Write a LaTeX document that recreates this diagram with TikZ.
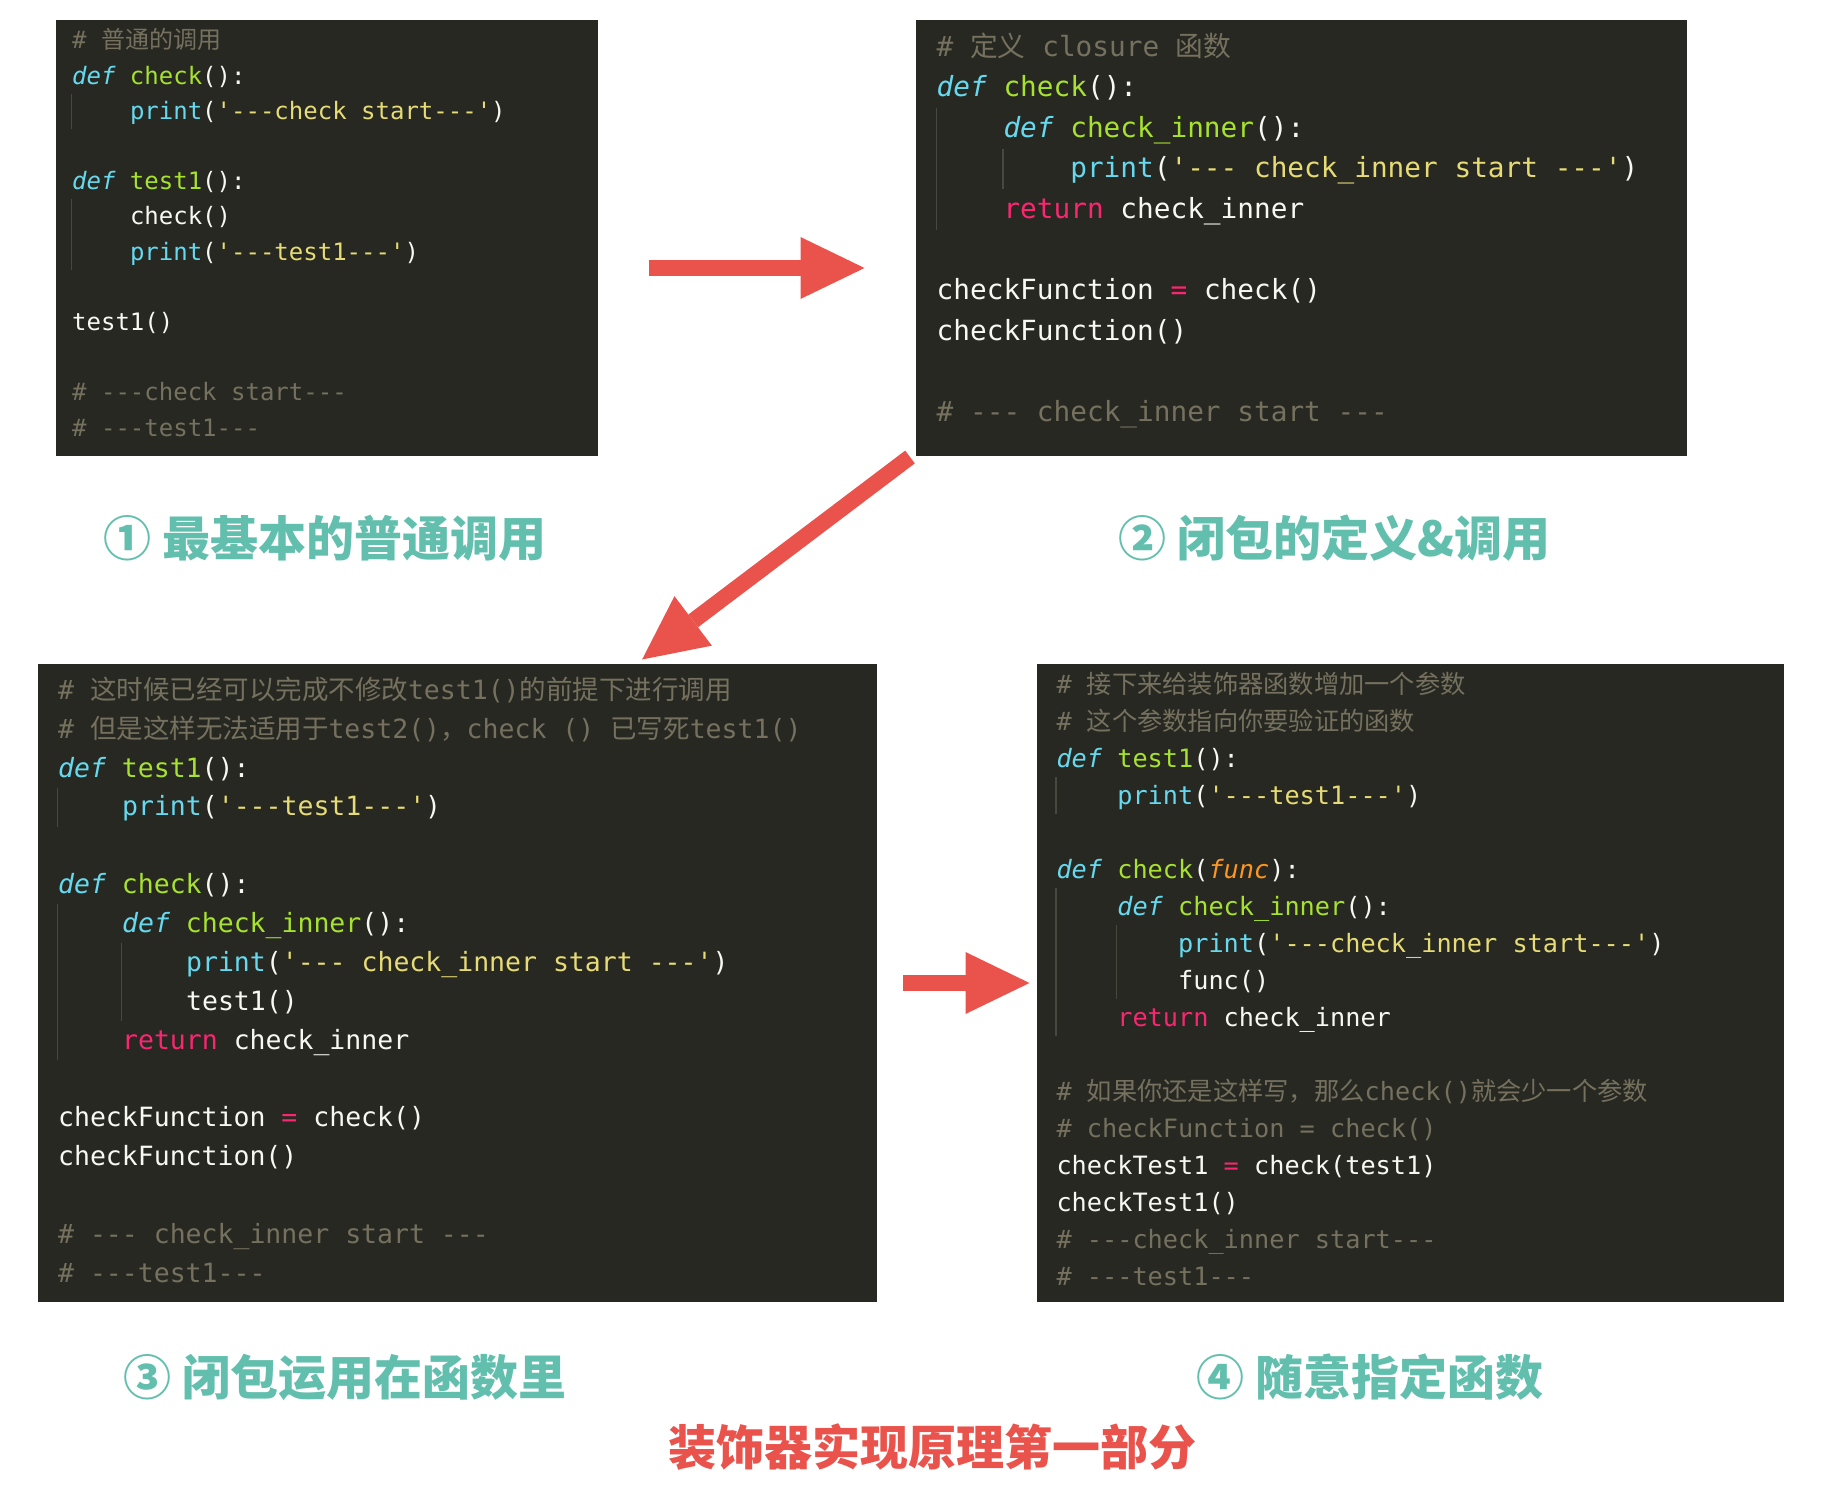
\documentclass[tikz,border=0pt]{standalone}
\usepackage{fontspec}
\setmonofont{DejaVu Sans Mono}
\newfontfamily\cjk{Noto Sans CJK SC}
\usepackage{xcolor}
\usetikzlibrary{arrows.meta,fit}
\definecolor{mkbg}{HTML}{272822}
\definecolor{mkwhite}{HTML}{F8F8F2}
\definecolor{mkgray}{HTML}{75715E}
\definecolor{mkblue}{HTML}{66D9EF}
\definecolor{mkgreen}{HTML}{A6E22E}
\definecolor{mkyellow}{HTML}{E6DB74}
\definecolor{mkpink}{HTML}{F92672}
\definecolor{mkorange}{HTML}{FD971F}
\definecolor{guidegray}{HTML}{48483F}
\definecolor{labteal}{HTML}{62BFAD}
\definecolor{arrowred}{HTML}{E9534C}
\newcommand{\pykw}[1]{\textcolor{mkblue}{\itshape #1}}
\newcommand{\pybi}[1]{\textcolor{mkblue}{#1}}
\newcommand{\pyfn}[1]{\textcolor{mkgreen}{#1}}
\newcommand{\pystr}[1]{\textcolor{mkyellow}{#1}}
\newcommand{\pyop}[1]{\textcolor{mkpink}{#1}}
\newcommand{\pyarg}[1]{\textcolor{mkorange}{\itshape #1}}
\newcommand{\pycm}[1]{\textcolor{mkgray}{#1}}

\begin{document}
\begin{tikzpicture}[x=0.4pt,y=-0.4pt,
    panel/.style={fill=mkbg,inner sep=0pt},
    code/.style={anchor=base west,inner sep=0pt,text=mkwhite},
    guide/.style={draw=guidegray,line width=0.5pt},
    lab/.style={anchor=west,inner sep=0pt,text=labteal,
      font=\cjk\bfseries\fontsize{19.2pt}{19.2pt}\selectfont},
    bigarrow/.style={draw=arrowred,line width=6.4pt,
      -{Triangle[length=25.6pt,width=24.8pt,line width=0pt]}}]
  \fill[white] (0,0) rectangle (1842,1506);
  \useasboundingbox (0,0) rectangle (1842,1506);

  % code panels
  \node[panel,fit={(56,20) (598,456)}] (p1) {};
  \node[panel,fit={(916,20) (1687,456)}] (p2) {};
  \node[panel,fit={(38,664) (876.7,1302)}] (p3) {};
  \node[panel,fit={(1037,664) (1784,1302)}] (p4) {};

  % panel 1
  \def\xa{71.7} \def\ya{48.9} \def\dya{35.2} \def\cwa{14.45}
  \draw[guide] (\xa,93.8) -- (\xa,129);
  \draw[guide] (\xa,199.4) -- (\xa,269.8);
  \begin{scope}[font=\ttfamily\fontsize{9.6pt}{9.6pt}\selectfont]
    \node[code] (a0) at ({\xa},{\ya+0*\dya}) {\pycm{\# {\cjk 普通的调用}}};
    \node[code] (a1) at ({\xa},{\ya+1*\dya}) {\pykw{def} \pyfn{check}():};
    \node[code] (a2) at ({\xa+4*\cwa},{\ya+2*\dya}) {\pybi{print}(\pystr{'---check start---'})};
    \node[code] (a4) at ({\xa},{\ya+4*\dya}) {\pykw{def} \pyfn{test1}():};
    \node[code] (a5) at ({\xa+4*\cwa},{\ya+5*\dya}) {check()};
    \node[code] (a6) at ({\xa+4*\cwa},{\ya+6*\dya}) {\pybi{print}(\pystr{'---test1---'})};
    \node[code] (a8) at ({\xa},{\ya+8*\dya}) {test1()};
    \node[code] (a10) at ({\xa},{\ya+10*\dya}) {\pycm{\# ---check start---}};
    \node[code] (a11) at ({\xa},{\ya+11*\dya}) {\pycm{\# ---test1---}};
  \end{scope}

  % panel 2
  \def\xb{936.2} \def\yb{56.1} \def\dyb{40.6} \def\cwb{16.7}
  \draw[guide] (\xb,107.9) -- (\xb,229.7);
  \draw[guide] ({\xb+4*\cwb},148.5) -- ({\xb+4*\cwb},189.1);
  \begin{scope}[font=\ttfamily\fontsize{11.1pt}{11.1pt}\selectfont]
    \node[code] (b0) at ({\xb},{\yb+0*\dyb}) {\pycm{\# {\cjk 定义} closure {\cjk 函数}}};
    \node[code] (b1) at ({\xb},{\yb+1*\dyb}) {\pykw{def} \pyfn{check}():};
    \node[code] (b2) at ({\xb+4*\cwb},{\yb+2*\dyb}) {\pykw{def} \pyfn{check\_inner}():};
    \node[code] (b3) at ({\xb+8*\cwb},{\yb+3*\dyb}) {\pybi{print}(\pystr{'--- check\_inner start ---'})};
    \node[code] (b4) at ({\xb+4*\cwb},{\yb+4*\dyb}) {\pyop{return} check\_inner};
    \node[code] (b6) at ({\xb},{\yb+6*\dyb}) {checkFunction \pyop{=} check()};
    \node[code] (b7) at ({\xb},{\yb+7*\dyb}) {checkFunction()};
    \node[code] (b9) at ({\xb},{\yb+9*\dyb}) {\pycm{\# --- check\_inner start ---}};
  \end{scope}

  % panel 3
  \def\xc{57.6} \def\yc{699.4} \def\dyc{38.85} \def\cwc{16.0}
  \draw[guide] (\xc,787.9) -- (\xc,826.7);
  \draw[guide] (\xc,904.4) -- (\xc,1059.8);
  \draw[guide] ({\xc+4*\cwc},943.2) -- ({\xc+4*\cwc},1020.9);
  \begin{scope}[font=\ttfamily\fontsize{10.6pt}{10.6pt}\selectfont]
    \node[code] (c0) at ({\xc},{\yc+0*\dyc}) {\pycm{\# {\cjk 这时候已经可以完成不修改}test1(){\cjk 的前提下进行调用}}};
    \node[code] (c1) at ({\xc},{\yc+1*\dyc}) {\pycm{\# {\cjk 但是这样无法适用于}test2(){\cjk ，}check () {\cjk 已写死}test1()}};
    \node[code] (c2) at ({\xc},{\yc+2*\dyc}) {\pykw{def} \pyfn{test1}():};
    \node[code] (c3) at ({\xc+4*\cwc},{\yc+3*\dyc}) {\pybi{print}(\pystr{'---test1---'})};
    \node[code] (c5) at ({\xc},{\yc+5*\dyc}) {\pykw{def} \pyfn{check}():};
    \node[code] (c6) at ({\xc+4*\cwc},{\yc+6*\dyc}) {\pykw{def} \pyfn{check\_inner}():};
    \node[code] (c7) at ({\xc+8*\cwc},{\yc+7*\dyc}) {\pybi{print}(\pystr{'--- check\_inner start ---'})};
    \node[code] (c8) at ({\xc+8*\cwc},{\yc+8*\dyc}) {test1()};
    \node[code] (c9) at ({\xc+4*\cwc},{\yc+9*\dyc}) {\pyop{return} check\_inner};
    \node[code] (c11) at ({\xc},{\yc+11*\dyc}) {checkFunction \pyop{=} check()};
    \node[code] (c12) at ({\xc},{\yc+12*\dyc}) {checkFunction()};
    \node[code] (c14) at ({\xc},{\yc+14*\dyc}) {\pycm{\# --- check\_inner start ---}};
    \node[code] (c15) at ({\xc},{\yc+15*\dyc}) {\pycm{\# ---test1---}};
  \end{scope}

  % panel 4
  \def\xd{1056} \def\yd{693.1} \def\dyd{37} \def\cwd{15.2}
  \draw[guide] (\xd,777.3) -- (\xd,814.3);
  \draw[guide] (\xd,888.3) -- (\xd,1036.3);
  \draw[guide] ({\xd+4*\cwd},925.3) -- ({\xd+4*\cwd},999.3);
  \begin{scope}[font=\ttfamily\fontsize{10.1pt}{10.1pt}\selectfont]
    \node[code] (d0) at ({\xd},{\yd+0*\dyd}) {\pycm{\# {\cjk 接下来给装饰器函数增加一个参数}}};
    \node[code] (d1) at ({\xd},{\yd+1*\dyd}) {\pycm{\# {\cjk 这个参数指向你要验证的函数}}};
    \node[code] (d2) at ({\xd},{\yd+2*\dyd}) {\pykw{def} \pyfn{test1}():};
    \node[code] (d3) at ({\xd+4*\cwd},{\yd+3*\dyd}) {\pybi{print}(\pystr{'---test1---'})};
    \node[code] (d5) at ({\xd},{\yd+5*\dyd}) {\pykw{def} \pyfn{check}(\pyarg{func}):};
    \node[code] (d6) at ({\xd+4*\cwd},{\yd+6*\dyd}) {\pykw{def} \pyfn{check\_inner}():};
    \node[code] (d7) at ({\xd+8*\cwd},{\yd+7*\dyd}) {\pybi{print}(\pystr{'---check\_inner start---'})};
    \node[code] (d8) at ({\xd+8*\cwd},{\yd+8*\dyd}) {func()};
    \node[code] (d9) at ({\xd+4*\cwd},{\yd+9*\dyd}) {\pyop{return} check\_inner};
    \node[code] (d11) at ({\xd},{\yd+11*\dyd}) {\pycm{\# {\cjk 如果你还是这样写，那么}check(){\cjk 就会少一个参数}}};
    \node[code] (d12) at ({\xd},{\yd+12*\dyd}) {\pycm{\# checkFunction = check()}};
    \node[code] (d13) at ({\xd},{\yd+13*\dyd}) {checkTest1 \pyop{=} check(test1)};
    \node[code] (d14) at ({\xd},{\yd+14*\dyd}) {checkTest1()};
    \node[code] (d15) at ({\xd},{\yd+15*\dyd}) {\pycm{\# ---check\_inner start---}};
    \node[code] (d16) at ({\xd},{\yd+16*\dyd}) {\pycm{\# ---test1---}};
  \end{scope}

  % captions
  \node[lab] (lab1) at (103,538) {① 最基本的普通调用};
  \node[lab] (lab2) at (1118.3,538) {② 闭包的定义\&调用};
  \node[lab] (lab3) at (123.3,1377) {③ 闭包运用在函数里};
  \node[lab] (lab4) at (1195.8,1377) {④ 随意指定函数};
  \node[lab,anchor=center,text=arrowred] (title) at (932.7,1447) {装饰器实现原理第一部分};

  % arrows between panels
  \draw[bigarrow,shorten <=20pt,shorten >=20.4pt] ([yshift=-12pt]p1.east) -- ([yshift=-12pt]p2.west);
  \draw[bigarrow] ([xshift=-2.2pt,yshift=-0.2pt]p2.south west) -- ([xshift=73.9pt,yshift=1.6pt]p3.north);
  \draw[bigarrow,shorten <=10.4pt,shorten >=2.8pt] (p3.east) -- (p4.west);
\end{tikzpicture}
\end{document}
